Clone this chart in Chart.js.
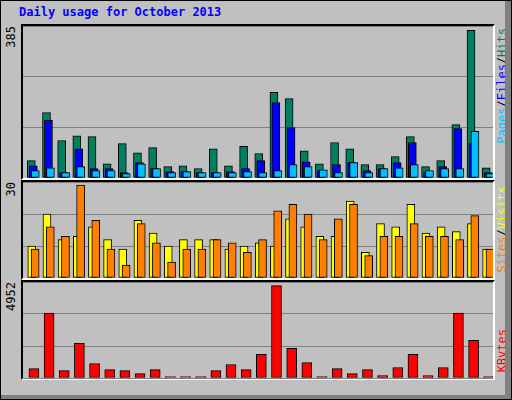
<!DOCTYPE html>
<html>
<head>
<meta charset="utf-8">
<script src="https://cdn.jsdelivr.net/npm/chart.js@4/dist/chart.umd.min.js"></script>
<style>
  body { margin: 0; background: #fff; }
  #frame { position: relative; width: 510px; height: 398px; background: #c0c0c0; border: 1px solid #000; }
  #frame:after { content: ''; position: absolute; right: 0; top: 0; width: 6px; height: 100%; background: #808080; }
  #bottomEdge { position: absolute; left: 0; bottom: 0; width: 100%; height: 4px; background: #808080; }
  .panel { position: absolute; left: 20px; border-top: 2px solid #000; border-left: 2px solid #000; border-right: 2px solid #fff; border-bottom: 2px solid #fff; }
  canvas { position: absolute; }
  .txt { position: absolute; font-family: "DejaVu Sans Mono", monospace; font-size: 12px; white-space: nowrap; }
  .vert { writing-mode: vertical-rl; transform: rotate(180deg); }
  #title { left: 18px; top: 4px; color: #0000ff; font-weight: bold; }
</style>
</head>
<body>
<div id="frame">
  <div id="bottomEdge"></div>
  <div class="txt" id="title">Daily usage for October 2013</div>
  <div class="panel" style="top:23px;width:470px;height:152px"></div>
  <div class="panel" style="top:179px;width:470px;height:96px"></div>
  <div class="panel" style="top:279px;width:470px;height:96px"></div>
  <canvas id="c1" width="470" height="152" style="left:22px;top:25px"></canvas>
  <canvas id="c2" width="470" height="96" style="left:22px;top:181px"></canvas>
  <canvas id="c3" width="470" height="118" style="left:22px;top:281px"></canvas>
  <div class="txt vert" style="left:3px;top:25px;color:#000">385</div>
  <div class="txt vert" style="left:3px;top:181px;color:#000">30</div>
  <div class="txt vert" style="left:3px;top:281px;color:#000">4952</div>
  <div class="txt vert" style="left:494px;top:27px"><span style="color:#00c0ff">Pages</span>/<span style="color:#0000ff">Files</span>/<span style="color:#008060">Hits</span></div>
  <div class="txt vert" style="left:494px;top:185px"><span style="color:#ff8000">Sites</span>/<span style="color:#ffff00">Visits</span></div>
  <div class="txt vert" style="left:494px;top:328px;color:#ff0000">KBytes</div>
</div>
<script>
const days = Array.from({ length: 31 }, (_, i) => String(i + 1))
const weekendDays = [5, 6, 12, 13, 19, 20, 26, 27]

const hits = [44, 166, 95, 107, 105, 36, 87, 64, 77, 29, 31, 24, 74, 31, 80, 62, 217, 201, 69, 36, 90, 74, 34, 34, 54, 105, 29, 44, 135, 374, 26]
const files = [31, 146, 14, 74, 24, 24, 14, 39, 24, 16, 16, 14, 14, 16, 24, 44, 191, 128, 41, 19, 34, 39, 19, 24, 39, 90, 14, 29, 125, 87, 14]
const pages = [19, 26, 14, 29, 19, 19, 11, 36, 24, 14, 16, 14, 14, 14, 16, 14, 19, 34, 29, 21, 14, 39, 14, 24, 26, 34, 19, 24, 24, 118, 11]
const sites = [10, 20, 12, 13, 16, 12, 9, 18, 14, 10, 12, 12, 12, 9, 10, 11, 10, 18.5, 16, 13, 13, 24, 8, 17, 16, 23, 14, 16, 14.5, 17, 9]
const visits = [9, 16, 13, 29, 18, 9, 4, 17, 11, 5, 9, 9, 12, 11, 8, 12, 21, 23, 20, 12, 18.5, 23, 7, 13, 13, 17, 13, 13, 12, 19.5, 9]
const kbytes = [487, 3354, 382, 1790, 747, 435, 382, 226, 435, 70, 70, 70, 382, 695, 435, 1217, 4762, 1529, 800, 70, 487, 226, 435, 120, 540, 1217, 120, 540, 3354, 1946, 70]

const yMax = [385, 30, 4952]

function pts(arr) {
  return arr.map((v, i) => ({ x: i + 1, y: v }))
}

function xScale(shift, show) {
  const s = {
    type: 'linear', min: 0.5 - shift, max: 31.5 - shift, display: show,
    grid: { display: false }, border: { display: false },
    ticks: {
      stepSize: 1, autoSkip: false, maxRotation: 0, padding: 4,
      font: { family: 'DejaVu Sans Mono', size: 12 },
      color: ctx => weekendDays.includes(ctx.tick.value) ? '#008060' : '#000',
      callback: v => days[v - 1]
    }
  }
  if (show) s.afterFit = sc => { sc.height = 22 }
  return s
}

function makeChart(id, datasets, max, xs) {
  const scales = Object.assign({
    y: {
      min: 0, max: max, display: true,
      ticks: { display: false },
      grid: { color: '#808080', lineWidth: 1, drawTicks: false },
      border: { display: false },
      afterBuildTicks: s => { s.ticks = [0, 1, 2, 3].map(k => ({ value: max * k / 3 })) },
      afterFit: s => { s.width = 0 }
    }
  }, xs)
  new Chart(document.getElementById(id), {
    type: 'bar',
    data: { datasets: datasets },
    options: {
      responsive: false, animation: false,
      layout: { padding: 0 },
      plugins: { legend: { display: false }, tooltip: { enabled: false } },
      scales: scales
    }
  })
}

function bar(data, color, axis, width) {
  return { data: pts(data), backgroundColor: color, borderColor: '#000', borderWidth: 1,
    borderSkipped: false, xAxisID: axis, barThickness: width, grouped: false }
}

makeChart('c1', [
  bar(hits, '#008060', 'xa', 8),
  bar(files, '#0000ff', 'xb', 8),
  bar(pages, '#00c0ff', 'xc', 8)
].map((d, i) => Object.assign(d, { order: 2 - i })), yMax[0], {
  xa: xScale(0.05, false), xb: xScale(0.18, false), xc: xScale(0.31, false)
})

makeChart('c2', [
  bar(sites, '#ffff00', 'xa', 8),
  bar(visits, '#ff8000', 'xb', 8)
].map((d, i) => Object.assign(d, { order: 1 - i })), yMax[1], {
  xa: xScale(0.08, false), xb: xScale(0.3, false)
})

makeChart('c3', [bar(kbytes, '#ff0000', 'xk', 10)], yMax[2], {
  xk: xScale(0.22, false), x: xScale(0, true)
})
</script>
</body>
</html>
